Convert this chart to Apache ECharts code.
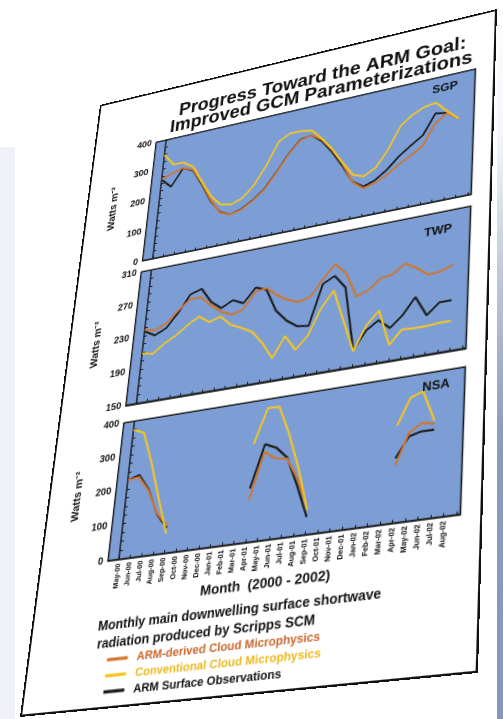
<!DOCTYPE html>
<html><head><meta charset="utf-8">
<script src="https://cdn.jsdelivr.net/npm/echarts@6/dist/echarts.min.js"></script>
<style>
html,body{margin:0;padding:0;width:503px;height:719px;overflow:hidden;background:#fff;}
#rs{position:absolute;left:497px;top:0;width:6px;height:719px;background:linear-gradient(#ffffff 0%,#f2f4f8 20%,#b8c4d9 40%,#8b9dbf 60%,#8598bb 100%);}
#ls{position:absolute;left:0;top:147px;width:15px;height:572px;background:#eef1f6;}
#poster{position:absolute;left:0;top:0;width:430px;height:640px;background:#fff;box-shadow:inset 0 0 0 2px #111;transform-origin:0 0;}
#chart{position:absolute;left:0;top:0;width:430px;height:640px;}
</style></head><body>
<div id="rs"></div><div id="ls"></div>
<div id="poster"><div id="chart"></div></div>
<script>
// ---------- data ----------
const months = ['May-00','Jun-00','Jul-00','Aug-00','Sep-00','Oct-00','Nov-00','Dec-00','Jan-01','Feb-01','Mar-01','Apr-01','May-01','Jun-01','Jul-01','Aug-01','Sep-01','Oct-01','Nov-01','Dec-01','Jan-02','Feb-02','Mar-02','Apr-02','May-02','Jun-02','Jul-02','Aug-02'];
const seriesNames = ['ARM-derived Cloud Microphysics','Conventional Cloud Microphysics','ARM Surface Observations'];
const panelNames = ['SGP','TWP','NSA'];

const sgpObs  = [263,232,287,272,218,155,110,95,105,127,156,204,256,296,302,275,231,179,119,95,108,134,169,196,221,283,276,250];
const sgpArm  = [265,277,288,274,222,158,108,95,103,125,154,202,254,294,302,280,238,186,118,90,99,117,142,163,185,250,276,250];
const sgpConv = [348,308,306,284,225,170,135,128,141,176,233,305,325,324,318,282,240,188,141,128,148,198,267,295,312,318,282,250];

const twpObs  = [235,228,234,250,270,274,256,246,253,247,263,258,231,217,208,206,252,259,243,169,189,198,187,199,217,194,206,206];
const twpArm  = [237,234,240,253,264,264,252,242,236,239,258,260,249,241,236,240,258,273,259,230,235,246,248,258,250,240,241,246];
const twpConv = [209,206,216,223,233,241,232,236,224,218,211,196,176,199,181,195,224,242,205,168,195,209,168,183,182,182,183,183];

const nsaObs  = [226,236,189,114,71,null,null,null,null,null,null,150,270,255,222,140,48,null,null,null,null,null,null,175,230,239,238,null];
const nsaArm  = [226,230,186,116,77,null,null,null,null,null,null,117,248,225,219,158,72,null,null,null,null,null,null,156,240,262,255,null];
const nsaConv = [374,360,267,158,55,null,null,null,null,null,null,275,374,372,290,190,67,null,null,null,null,null,null,265,338,350,263,null];

const sgpTicks = [0,100,200,300,400];
const twpTicks = [150,190,230,270,310];
const nsaTicks = [0,100,200,300,400];

// ---------- perspective of the photographed poster ----------
const W = 430, H = 640;
const Q = [[100,105],[497,9],[478,673],[20,717]];
const [x0,y0]=Q[0],[x1,y1]=Q[1],[x2,y2]=Q[2],[x3,y3]=Q[3];
const dx1=x1-x2, dx2=x3-x2, dx3=x0-x1+x2-x3, dy1=y1-y2, dy2=y3-y2, dy3=y0-y1+y2-y3;
const det = dx1*dy2 - dx2*dy1;
const g = (dx3*dy2 - dx2*dy3)/det, h = (dx1*dy3 - dx3*dy1)/det;
const a = x1-x0+g*x1, b = x3-x0+h*x3, c = x0, d = y1-y0+g*y1, e = y3-y0+h*y3, f = y0;
document.getElementById('poster').style.transform =
  `matrix3d(${a/W},${d/W},0,${g/W},${b/H},${e/H},0,${h/H},0,0,1,0,${c},${f},0,1)`;
function inv(x, y){
  const A=a-g*x, B=b-h*x, C=x-c, D=d-g*y, E=e-h*y, F=y-f;
  const dt=A*E-B*D;
  return [(C*E-B*F)/dt*W, (A*F-C*D)/dt*H];
}

// panel corners as seen in the photo
const panels = [
  {tl:[157,143], tr:[475,68],  bl:[143,262], br:[472,193], lab:[445,88]},
  {tl:[140,273], tr:[463,207], bl:[125,407], br:[463,347], lab:[438,231]},
  {tl:[123,423], tr:[465,367], bl:[108,562], br:[460,513], lab:[436,386]}
];
// common left/right edges (panels are aligned on the poster)
const uLeft = 0.169*W, uRight = 0.9545*W;
const rects = panels.map(p=>{
  const A=inv(...p.tl), B=inv(...p.tr), C=inv(...p.bl), D=inv(...p.br);
  const top=(A[1]+B[1])/2, bottom=(C[1]+D[1])/2;
  return {left:uLeft, top, width:uRight-uLeft, height:bottom-top};
});

const FONT = '"Liberation Sans", Arial, sans-serif';
const COL = {arm:'#d0762f', conv:'#f3c623', obs:'#1b1b1b'};
const legendTextColors = ['#c9662b','#eab81a','#111'];

function subTicks(t, n){
  const out=[];
  for(let i=0;i<t.length-1;i++){ for(let k=0;k<n;k++){ out.push(t[i]+(t[i+1]-t[i])*k/n); } }
  out.push(t[t.length-1]);
  return out;
}

const yRanges = [[0,400,sgpTicks],[150,310,twpTicks],[0,400,nsaTicks]];
const grids = rects.map(r=>({left:r.left, top:r.top, width:r.width, height:r.height, show:true,
  backgroundColor:'#7c9ed5', borderColor:'#1a1a1a', borderWidth:1.5, outerBoundsMode:'none', containLabel:false}));

const monthName = inv(275,583);
const nsaBottom = rects[2].top + rects[2].height;

const xAxes = rects.map((r,i)=>({
  gridIndex:i, type:'value', min:-1, max:28.3, interval:1,
  axisLine:{show:true, lineStyle:{color:'#1a1a1a', width:1.5}},
  axisTick:{show:true, inside:true, length:3, lineStyle:{color:'#1a1a1a', width:1}},
  axisLabel:{show:i===2, rotate:90, fontSize:7, fontWeight:'bold', color:'#111', fontFamily:FONT, margin:4,
    formatter:v=> (months[v] !== undefined ? months[v] : '')},
  splitLine:{show:false},
  name: i===2 ? 'Month  (2000 - 2002)' : '',
  nameLocation:'middle', nameGap: monthName[1]-nsaBottom-7,
  nameTextStyle:{fontSize:13, fontWeight:'bold', color:'#111', fontFamily:FONT, padding:[0,18,0,0]}
}));

const yAxes = yRanges.map((yr,i)=>({
  gridIndex:i, type:'value', min:yr[0], max:yr[1],
  axisLine:{show:true, lineStyle:{color:'#1a1a1a', width:1.5}},
  axisTick:{show:true, inside:true, length:3, customValues:subTicks(yr[2],4), lineStyle:{color:'#1a1a1a', width:1}},
  axisLabel:{customValues:yr[2], fontSize:10, fontWeight:'bold', color:'#111', fontFamily:FONT, margin:5},
  splitLine:{show:false},
  name:'Watts m\u207B\u00B2', nameLocation:'middle', nameRotate:90, nameGap:35,
  nameTextStyle:{fontSize:11, fontWeight:'bold', color:'#111', fontFamily:FONT}
}));

const pairs = arr => arr.map((v,i)=>[i, v==null ? '-' : v]);
function mk(name, arr, gi, color, z){
  return {name, type:'line', xAxisIndex:gi, yAxisIndex:gi, data:pairs(arr), showSymbol:false, symbol:'none',
    lineStyle:{color, width:2}, itemStyle:{color}, connectNulls:false, z, animation:false};
}
const series = [
  mk(seriesNames[2], sgpObs, 0, COL.obs, 2), mk(seriesNames[0], sgpArm, 0, COL.arm, 3), mk(seriesNames[1], sgpConv, 0, COL.conv, 4),
  mk(seriesNames[2], twpObs, 1, COL.obs, 2), mk(seriesNames[0], twpArm, 1, COL.arm, 3), mk(seriesNames[1], twpConv, 1, COL.conv, 4),
  mk(seriesNames[2], nsaObs, 2, COL.obs, 2), mk(seriesNames[0], nsaArm, 2, COL.arm, 3), mk(seriesNames[1], nsaConv, 2, COL.conv, 4)
];

const t1 = inv(318,78), t2 = inv(316,94);
const c1 = inv(98,627), c2 = inv(97,645);
const lg1 = inv(107,660), lg3 = inv(105,692);
const lgSpacing = (lg3[1]-lg1[1])/2;

const graphic = [
  {type:'text', x:t1[0], y:t1[1], style:{text:'Progress Toward the ARM Goal:', font:`bold 20px ${FONT}`, fill:'#111', align:'center', verticalAlign:'middle'}},
  {type:'text', x:t2[0], y:t2[1], style:{text:'Improved GCM Parameterizations', font:`bold 20px ${FONT}`, fill:'#111', align:'center', verticalAlign:'middle'}},
  {type:'text', x:c1[0], y:c1[1], style:{text:'Monthly main downwelling surface shortwave', font:`bold 12.5px ${FONT}`, fill:'#111', align:'left', verticalAlign:'middle'}},
  {type:'text', x:c2[0], y:c2[1], style:{text:'radiation produced by Scripps SCM', font:`bold 12.5px ${FONT}`, fill:'#111', align:'left', verticalAlign:'middle'}}
].concat(panels.map((p,i)=>{ const q=inv(...p.lab); return {type:'text', x:q[0], y:q[1], z:10,
  style:{text:panelNames[i], font:`bold 12px ${FONT}`, fill:'#111', align:'center', verticalAlign:'middle'}}; }));

const chart = echarts.init(document.getElementById('chart'), null, {renderer:'canvas', devicePixelRatio:2, width:W, height:H});
chart.setOption({
  animation:false,
  backgroundColor:'transparent',
  grid: grids,
  xAxis: xAxes,
  yAxis: yAxes,
  series,
  legend:{orient:'vertical', left:lg1[0], top:lg1[1]-6, padding:0, itemWidth:21, itemHeight:3, icon:'rect',
    itemGap: Math.max(0, lgSpacing-12), selectedMode:false,
    textStyle:{fontSize:11, fontWeight:'bold', fontFamily:FONT, lineHeight:12, padding:[0,0,0,4]},
    data: seriesNames.map((n,i)=>({name:n, textStyle:{color:legendTextColors[i]}}))},
  graphic
});
</script>
</body></html>
